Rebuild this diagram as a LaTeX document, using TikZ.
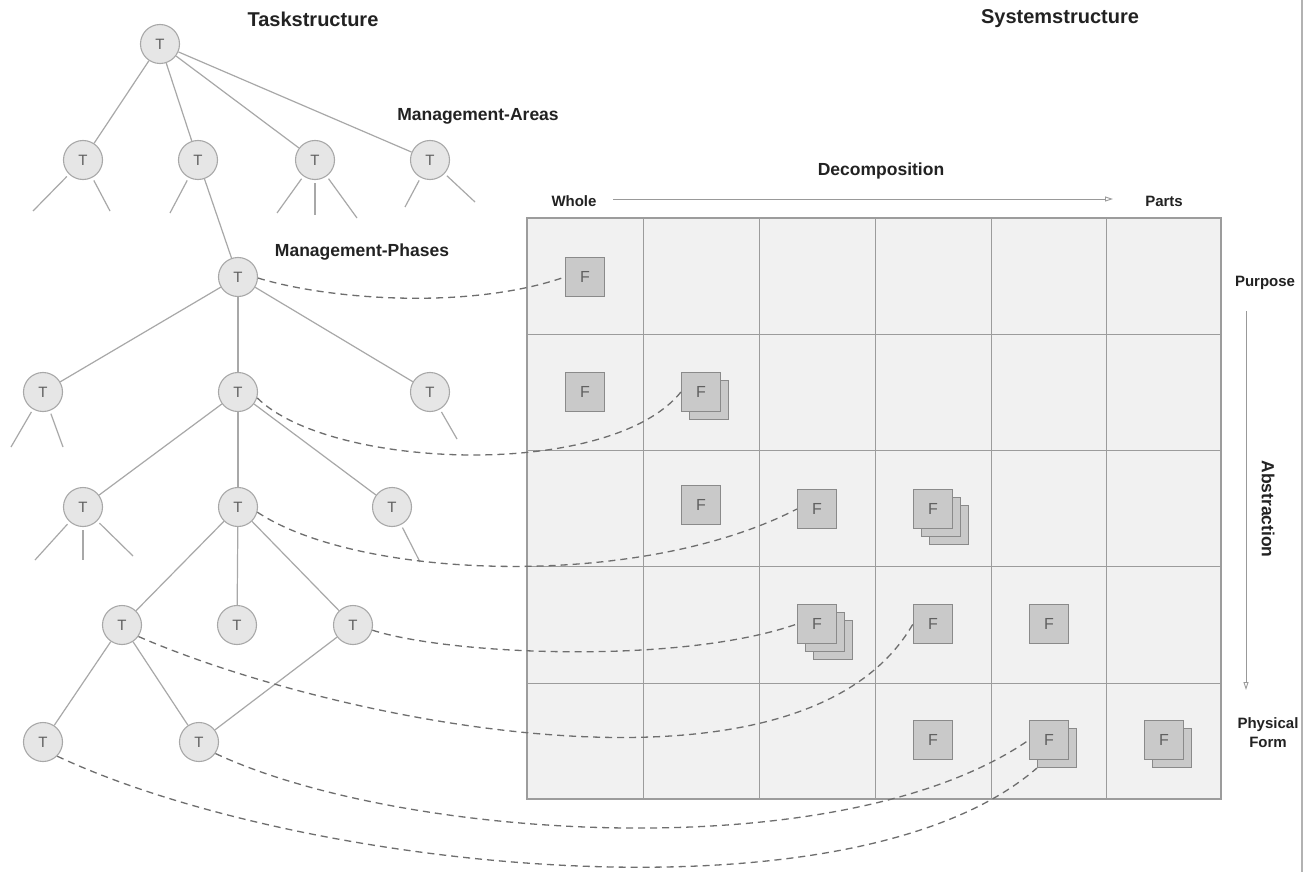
\documentclass[tikz,border=0pt]{standalone}
\usepackage{fontspec}
\setmainfont{Liberation Sans}
\usetikzlibrary{arrows.meta}
\definecolor{tfill}{HTML}{E6E6E6}
\definecolor{tdraw}{HTML}{A8A8A8}
\definecolor{tletter}{HTML}{606060}
\definecolor{ffill}{HTML}{C9C9C9}
\definecolor{fdraw}{HTML}{8A8A8A}
\definecolor{gridfill}{HTML}{F1F1F1}
\definecolor{gridline}{HTML}{9C9C9C}
\definecolor{dashc}{HTML}{6E6E6E}
\definecolor{labc}{HTML}{222222}
\begin{document}
\begin{tikzpicture}[x=1pt,y=-1pt,
  tnode/.style={circle,draw=tdraw,fill=tfill,line width=1.1pt,minimum size=39pt,inner sep=0pt,font=\fontsize{15}{15}\selectfont,text=tletter},
  fbox/.style={rectangle,draw=fdraw,fill=ffill,line width=1.1pt,minimum size=39pt,inner sep=0pt,font=\fontsize{16}{16}\selectfont,text=tletter},
  treeline/.style={draw=tdraw,line width=1.2pt},
  link/.style={draw=dashc,line width=1.3pt,dash pattern=on 7pt off 5pt},
  gline/.style={draw=gridline,line width=1pt},
  titlelab/.style={font=\bfseries\fontsize{20}{24}\selectfont,text=labc},
  midlab/.style={font=\bfseries\fontsize{17.5}{21}\selectfont,text=labc},
  smalllab/.style={font=\bfseries\fontsize{15}{19}\selectfont,text=labc,align=center},
  arrowline/.style={draw=gray!80,line width=0.9pt,-{Triangle[open,length=8pt,width=5pt]}},
]
\useasboundingbox (0,0) rectangle (1310,872);
\fill[white] (0,0) rectangle (1310,872);

% right border
\coordinate (rb1) at (1302,0);
\coordinate (rb2) at (1302,872);
\draw[draw=gray!60,line width=1.6pt] (rb1) -- (rb2);

% labels
\node[titlelab] (ts) at (313,19) {Taskstructure};
\node[titlelab] (ss) at (1060,19) {Systemstructure};
\node[midlab] (ma) at (478,116) {Management-Areas};
\node[midlab] (mph) at (362,252) {Management-Phases};
\node[midlab] (dec) at (881,171) {Decomposition};
\node[smalllab] (whole) at (574,201) {Whole};
\node[smalllab] (parts) at (1164,201) {Parts};
\node[smalllab] (purp) at (1265,283) {Purpose};
\node[midlab,rotate=-90] (abs) at (1268,509) {Abstraction};
\node[smalllab] (phys) at (1268,733) {Physical\\Form};

% arrows
\coordinate (ha) at (613,199);
\coordinate (hb) at (1113,199);
\draw[arrowline] (ha) -- (hb);
\coordinate (va) at (1246,311);
\coordinate (vb) at (1246,690);
\draw[arrowline] (va) -- (vb);

% grid
\fill[gridfill] (527,218) rectangle (1221,799);
\foreach \gx in {643,759,875,991,1106} \draw[gline] (\gx,218) -- (\gx,799);
\foreach \gy in {334,450,566,683} \draw[gline] (527,\gy) -- (1221,\gy);
\draw[gline,line width=1.3pt] (527,218) rectangle (1221,799);

% F boxes
\node[fbox] (f1) at (585,277) {F};
\node[fbox] (f2a) at (585,392) {F};
\node[fbox] (f2bb) at (709,400) {};
\node[fbox] (f2b) at (701,392) {F};
\node[fbox] (f3a) at (701,505) {F};
\node[fbox] (f3b) at (817,509) {F};
\node[fbox] (f3cc) at (949,525) {};
\node[fbox] (f3cb) at (941,517) {};
\node[fbox] (f3c) at (933,509) {F};
\node[fbox] (f4acc) at (833,640) {};
\node[fbox] (f4ab) at (825,632) {};
\node[fbox] (f4a) at (817,624) {F};
\node[fbox] (f4b) at (933,624) {F};
\node[fbox] (f4c) at (1049,624) {F};
\node[fbox] (f5a) at (933,740) {F};
\node[fbox] (f5bb) at (1057,748) {};
\node[fbox] (f5b) at (1049,740) {F};
\node[fbox] (f5cb) at (1172,748) {};
\node[fbox] (f5c) at (1164,740) {F};

% tree nodes
\node[tnode] (r) at (160,44) {T};
\node[tnode] (a1) at (83,160) {T};
\node[tnode] (a2) at (198,160) {T};
\node[tnode] (a3) at (315,160) {T};
\node[tnode] (a4) at (430,160) {T};
\node[tnode] (mp) at (238,277) {T};
\node[tnode] (b1) at (43,392) {T};
\node[tnode] (b2) at (238,392) {T};
\node[tnode] (b3) at (430,392) {T};
\node[tnode] (c1) at (83,507) {T};
\node[tnode] (c2) at (238,507) {T};
\node[tnode] (c3) at (392,507) {T};
\node[tnode] (d1) at (122,625) {T};
\node[tnode] (d2) at (237,625) {T};
\node[tnode] (d3) at (353,625) {T};
\node[tnode] (e1) at (43,742) {T};
\node[tnode] (e2) at (199,742) {T};

% tree edges
\foreach \u/\v in {r/a1,r/a2,r/a3,r/a4,a2/mp,mp/b1,mp/b2,mp/b3,b2/c1,b2/c2,b2/c3,c2/d1,c2/d2,c2/d3,d1/e1,d1/e2,d3/e2}
  \draw[treeline] (\u) -- (\v);

% stubs
\coordinate (s11) at (33,211);
\coordinate (s12) at (110,211);
\coordinate (s21) at (170,213);
\coordinate (s31) at (277,213);
\coordinate (s32) at (315,215);
\coordinate (s33) at (357,218);
\coordinate (s41) at (405,207);
\coordinate (s42) at (475,202);
\coordinate (sb11) at (11,447);
\coordinate (sb12) at (63,447);
\coordinate (sb31) at (457,439);
\coordinate (sc11) at (35,560);
\coordinate (sc12) at (83,560);
\coordinate (sc13) at (133,556);
\coordinate (sc31) at (420,562);
\foreach \u/\v in {a1/s11,a1/s12,a2/s21,a3/s31,a3/s32,a3/s33,a4/s41,a4/s42,b1/sb11,b1/sb12,b3/sb31,c1/sc11,c1/sc12,c1/sc13,c3/sc31}
  \draw[treeline,shorten <=3pt] (\u) -- (\v);

% dashed links
\draw[link] (mp.-3) .. controls (330,300) and (470,310) .. (f1.west);
\draw[link] (b2.-17) .. controls (330,470) and (610,480) .. (f2b.west);
\draw[link] (c2.-15) .. controls (360,580) and (640,590) .. (f3b.west);
\draw[link] (d3.-15) .. controls (450,655) and (680,665) .. (f4a.west);
\draw[link] (d1.-35) .. controls (330,720) and (800,820) .. (f4b.west);
\draw[link] (e2.-35) .. controls (400,840) and (840,870) .. (f5b.west);
\draw[link] (e1.-45) .. controls (300,870) and (850,930) .. (f5bb.south west);
\end{tikzpicture}
\end{document}
